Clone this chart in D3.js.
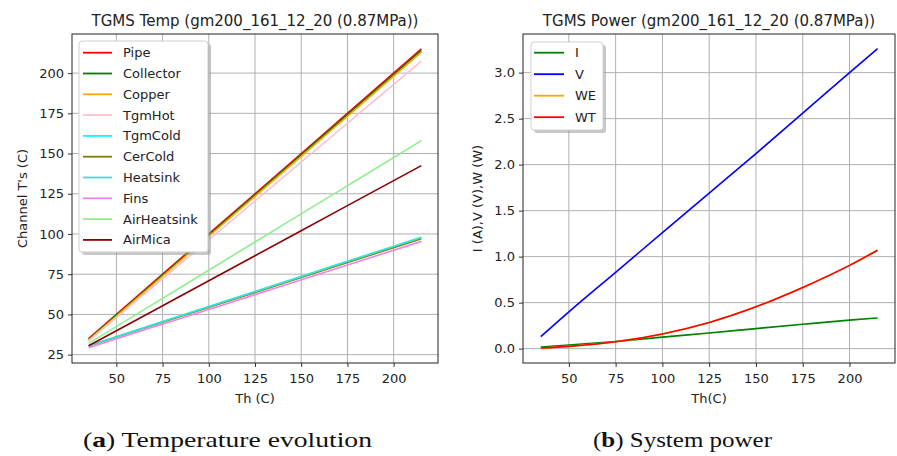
<!DOCTYPE html>
<html>
<head>
<meta charset="utf-8">
<script src="https://cdn.jsdelivr.net/npm/d3@7/dist/d3.min.js"></script>
<style>
  html, body { margin: 0; padding: 0; background: #fff; }
  svg { display: block; }
  text { font-family: "DejaVu Sans", sans-serif; }
</style>
</head>
<body>
<svg id="chart" width="897" height="456"></svg>
<script>
// ---- data ----
const thTemp = [35, 80, 125, 170, 215];
const tempSeries = [
  { name: 'Pipe',        color: 'red',       values: [35.0, 80.0, 125.0, 170.0, 215.0] },
  { name: 'Collector',   color: 'green',     values: [34.5, 79.3, 124.2, 169.0, 214.0] },
  { name: 'Copper',      color: 'orange',    values: [34.0, 78.7, 123.4, 168.2, 213.0] },
  { name: 'TgmHot',      color: 'pink',      values: [33.5, 77.0, 120.5, 164.0, 207.5] },
  { name: 'TgmCold',     color: 'cyan',      values: [30.5, 47.4, 64.2, 81.1, 98.0] },
  { name: 'CerCold',     color: 'olive',     values: [30.3, 47.0, 63.7, 80.4, 97.0] },
  { name: 'Heatsink',    color: 'turquoise', values: [30.4, 47.3, 64.1, 81.0, 97.8] },
  { name: 'Fins',        color: 'violet',    values: [29.3, 45.8, 62.3, 78.8, 95.4] },
  { name: 'AirHeatsink', color: 'lightgreen',values: [32.0, 63.5, 95.0, 126.5, 158.0] },
  { name: 'AirMica',     color: 'darkred',   values: [30.5, 58.5, 86.5, 114.5, 142.5] }
];
const tempTicksX = [50, 75, 100, 125, 150, 175, 200];
const tempTicksY = [25, 50, 75, 100, 125, 150, 175, 200];

const thPower = [35, 50, 75, 100, 125, 150, 175, 200, 215];
const powerI  = [0.018, 0.04, 0.078, 0.125, 0.17, 0.218, 0.265, 0.31, 0.333];
const powerV  = [0.13, 0.40, 0.83, 1.26, 1.69, 2.12, 2.56, 3.00, 3.26];
const powerWE = [0.007, 0.025, 0.075, 0.16, 0.285, 0.455, 0.665, 0.905, 1.07];
const powerWT = [0.007, 0.025, 0.075, 0.16, 0.285, 0.455, 0.665, 0.905, 1.07];
const powerSeries = [
  { name: 'I',  color: 'green',  values: powerI },
  { name: 'V',  color: 'blue',   values: powerV },
  { name: 'WE', color: 'orange', values: powerWE },
  { name: 'WT', color: 'red',    values: powerWT }
];
const powerTicksY = [0.0, 0.5, 1.0, 1.5, 2.0, 2.5, 3.0];

const svg = d3.select('#chart');

function drawPanel(opts) {
  const { left, right, top, bottom, xDomain, yDomain, xs, series, xTicks, yTicks,
          yFmt, title, xLabel, yLabel, yLabelX, legend } = opts;
  const x = d3.scaleLinear().domain(xDomain).range([left, right]);
  const y = d3.scaleLinear().domain(yDomain).range([bottom, top]);
  const g = svg.append('g');

  // grid
  g.append('g').selectAll('line').data(xTicks).join('line')
    .attr('x1', d => x(d)).attr('x2', d => x(d))
    .attr('y1', top).attr('y2', bottom)
    .attr('stroke', '#b0b0b0').attr('stroke-width', 1);
  g.append('g').selectAll('line').data(yTicks).join('line')
    .attr('x1', left).attr('x2', right)
    .attr('y1', d => y(d)).attr('y2', d => y(d))
    .attr('stroke', '#b0b0b0').attr('stroke-width', 1);

  // lines
  const line = d3.line().x((d, i) => x(xs[i])).y(d => y(d)).curve(d3.curveMonotoneX);
  g.append('g').selectAll('path').data(series).join('path')
    .attr('d', s => line(s.values))
    .attr('fill', 'none')
    .attr('stroke', s => s.color)
    .attr('stroke-width', 1.6);

  // axes
  const ax = g.append('g').attr('transform', `translate(0,${bottom})`)
    .call(d3.axisBottom(x).tickValues(xTicks).tickSize(4).tickPadding(4).tickFormat(d3.format('d')));
  const ay = g.append('g').attr('transform', `translate(${left},0)`)
    .call(d3.axisLeft(y).tickValues(yTicks).tickSize(4).tickPadding(4).tickFormat(yFmt));
  [ax, ay].forEach(a => {
    a.select('.domain').remove();
    a.selectAll('line').attr('stroke', '#333');
    a.selectAll('text').attr('font-size', 13).attr('fill', '#222')
      .attr('font-family', '"DejaVu Sans", sans-serif');
  });
  ax.selectAll('text').attr('dy', '0.95em');

  // frame
  g.append('rect').attr('x', left).attr('y', top)
    .attr('width', right - left).attr('height', bottom - top)
    .attr('fill', 'none').attr('stroke', '#222').attr('stroke-width', 1);

  // title and labels
  g.append('text').attr('x', (left + right) / 2).attr('y', 26)
    .attr('text-anchor', 'middle').attr('font-size', 15).attr('fill', '#222').text(title);
  g.append('text').attr('x', (left + right) / 2).attr('y', 403)
    .attr('text-anchor', 'middle').attr('font-size', 13).attr('fill', '#222').text(xLabel);
  g.append('text')
    .attr('transform', `translate(${yLabelX},${(top + bottom) / 2}) rotate(-90)`)
    .attr('text-anchor', 'middle').attr('dy', '0.35em')
    .attr('font-size', 13).attr('fill', '#222').text(yLabel);

  // legend with offset shadow
  const lg = g.append('g');
  lg.append('rect').attr('x', legend.x + 3).attr('y', legend.y + 3)
    .attr('width', legend.w).attr('height', legend.h).attr('rx', 3)
    .attr('fill', '#999').attr('opacity', 0.55);
  lg.append('rect').attr('x', legend.x).attr('y', legend.y)
    .attr('width', legend.w).attr('height', legend.h).attr('rx', 3)
    .attr('fill', '#fff').attr('stroke', '#d0d0d0').attr('stroke-width', 1);
  const rows = lg.selectAll('g.row').data(series).join('g')
    .attr('transform', (d, i) => `translate(0,${legend.y0 + i * legend.step})`);
  rows.append('line').attr('x1', legend.hx0).attr('x2', legend.hx1)
    .attr('y1', 0).attr('y2', 0).attr('stroke', d => d.color).attr('stroke-width', 1.8);
  rows.append('text').attr('x', legend.tx).attr('dy', '0.35em')
    .attr('font-size', 13).attr('fill', '#222').text(d => d.name);
}

drawPanel({
  left: 72, right: 438, top: 34, bottom: 363,
  xDomain: [26, 224], yDomain: [19.8, 224.3],
  xs: thTemp, series: tempSeries,
  xTicks: tempTicksX, yTicks: tempTicksY, yFmt: d3.format('d'),
  title: 'TGMS Temp (gm200_161_12_20 (0.87MPa))',
  xLabel: 'Th (C)', yLabel: "Channel T's (C)", yLabelX: 22,
  legend: { x: 79, y: 41, w: 129, h: 211, y0: 52.7, step: 20.8, hx0: 83, hx1: 112, tx: 123 }
});

drawPanel({
  left: 523, right: 895, top: 34, bottom: 363,
  xDomain: [25.5, 224.3], yDomain: [-0.156, 3.42],
  xs: thPower, series: powerSeries,
  xTicks: tempTicksX, yTicks: powerTicksY, yFmt: d3.format('.1f'),
  title: 'TGMS Power (gm200_161_12_20 (0.87MPa))',
  xLabel: 'Th(C)', yLabel: 'I (A),V (V),W (W)', yLabelX: 477,
  legend: { x: 531, y: 42, w: 72, h: 88, y0: 52.7, step: 21.5, hx0: 534, hx1: 564, tx: 575 }
});

// sub-captions
const cap = svg.append('g').attr('font-size', 21).attr('fill', '#111');
const capA = cap.append('text').attr('x', 83).attr('y', 447)
  .attr('textLength', 289).attr('lengthAdjust', 'spacingAndGlyphs')
  .style('font-family', '"Liberation Serif", serif');
capA.append('tspan').text('(');
capA.append('tspan').attr('font-weight', 'bold').text('a');
capA.append('tspan').text(') Temperature evolution');
const capB = cap.append('text').attr('x', 593).attr('y', 447)
  .attr('textLength', 179).attr('lengthAdjust', 'spacingAndGlyphs')
  .style('font-family', '"Liberation Serif", serif');
capB.append('tspan').text('(');
capB.append('tspan').attr('font-weight', 'bold').text('b');
capB.append('tspan').text(') System power');
</script>
</body>
</html>
